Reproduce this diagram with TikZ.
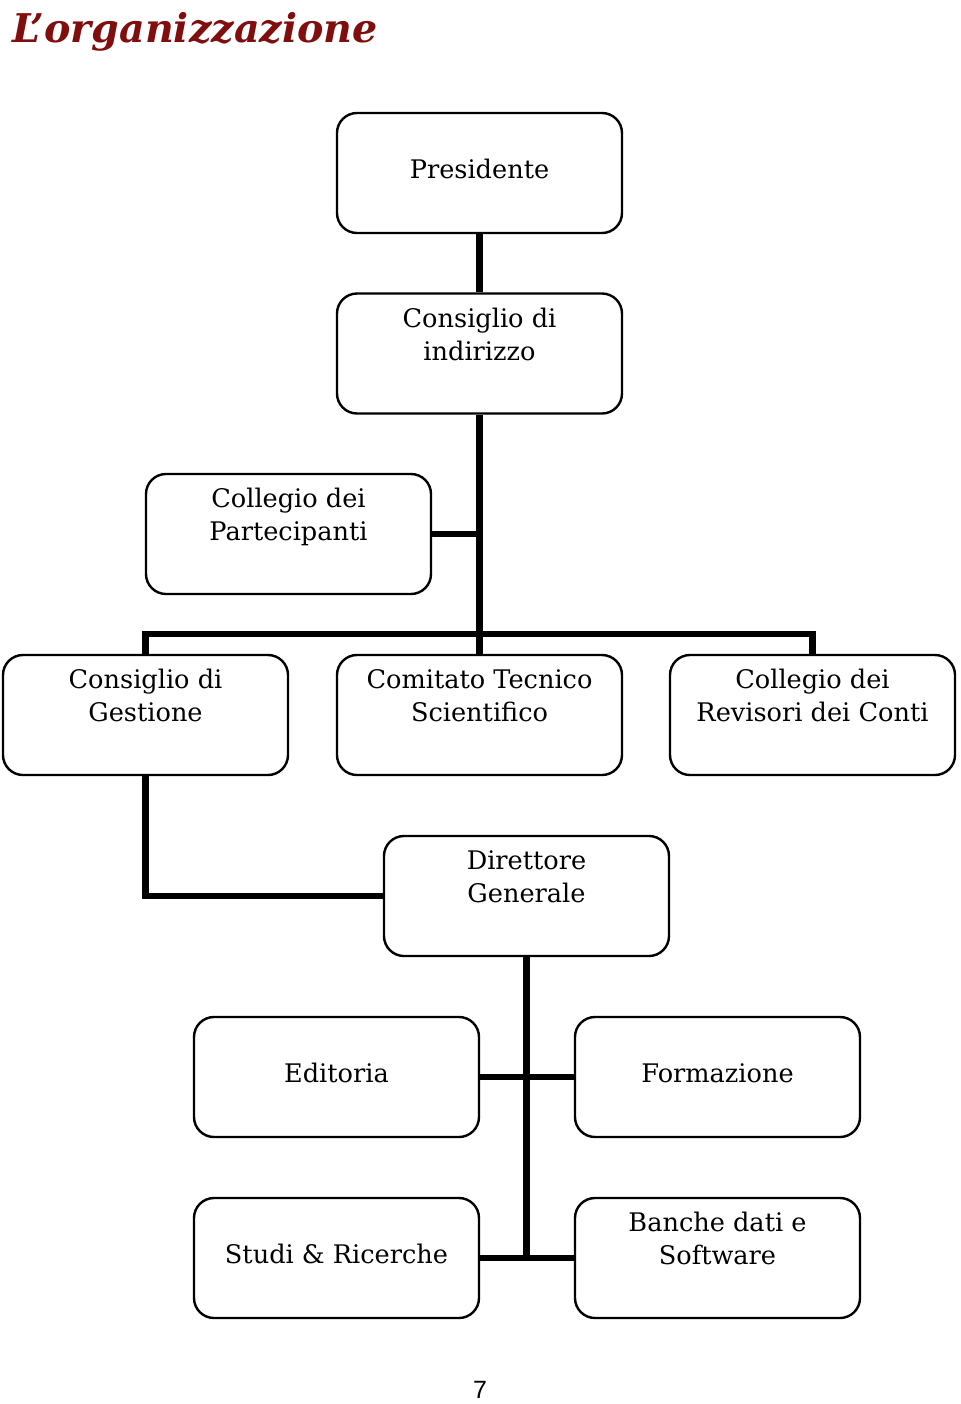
\documentclass[tikz,border=0pt]{standalone}
\usepackage{fontspec}
\setmainfont{DejaVu Serif}
\newfontfamily\numfont{Liberation Sans}
\usetikzlibrary{positioning}
\definecolor{titlered}{RGB}{128,14,14}
\tikzset{
    box/.style = {rectangle, rounded corners=10pt, draw=black, line width=1.2pt, minimum width=142.5pt, minimum height=60pt, inner sep=0pt, align=center, font=\fontsize{12.8}{16.5}\selectfont},
    txt/.style = {align=center, inner sep=0pt, font=\fontsize{12.8}{16.5}\selectfont},
    top/.style = {label={[txt, anchor=north, yshift=-7.5pt]north:#1}},
    one/.style = {text depth=4pt},
    conn/.style = {line width=3.3pt, black},
    ttl/.style = {anchor=base west, inner sep=0pt, text=titlered, font=\fontsize{19.8}{22}\selectfont\bfseries\itshape}
}

\begin{document}
\begin{tikzpicture}[x=0.5pt, y=-0.5pt]
\useasboundingbox (0,0) rectangle (960,1404);
\node[ttl] at (12,42) (title) {L’organizzazione};

\node[box, one] at (479.5,173) (pres) {Presidente};
\node[box, top={Consiglio di\\indirizzo}] at (479.5,353.5) (cind) {};
\node[box, top={Collegio dei\\Partecipanti}] at (288.5,534) (cpart) {};
\node[box, top={Consiglio di\\Gestione}] at (145.5,715) (cges) {};
\node[box, top={Comitato Tecnico\\Scientifico}] at (479.5,715) (cts) {};
\node[box, top={Collegio dei\\Revisori dei Conti}] at (812.5,715) (crev) {};
\node[box, top={Direttore\\Generale}] at (526.5,896) (dir) {};
\node[box, one] at (336.5,1077) (edit) {Editoria};
\node[box, one] at (717.5,1077) (form) {Formazione};
\node[box, one] at (336.5,1258) (studi) {Studi \& Ricerche};
\node[box, top={Banche dati e\\Software}] at (717.5,1258) (banche) {};
\coordinate (bar) at (479.5,634);
%
\draw[conn] (pres) -- (cind);
\draw[conn] (cind) -- (bar);
\draw[conn] (cpart.east) -- (cpart.east -| cind.south);
\draw[conn] (cges.north) |- (bar) -| (crev.north);
\draw[conn] (bar) -- (cts);
\draw[conn] (cges.south) |- (dir.west);
\draw[conn] (dir.south) -- (dir.south |- studi.east);
\draw[conn] (edit) -- (form);
\draw[conn] (studi) -- (banche);

\node[font=\numfont\fontsize{12.5}{15}\selectfont] at (480,1390) (page) {7};
\end{tikzpicture}
\end{document}
